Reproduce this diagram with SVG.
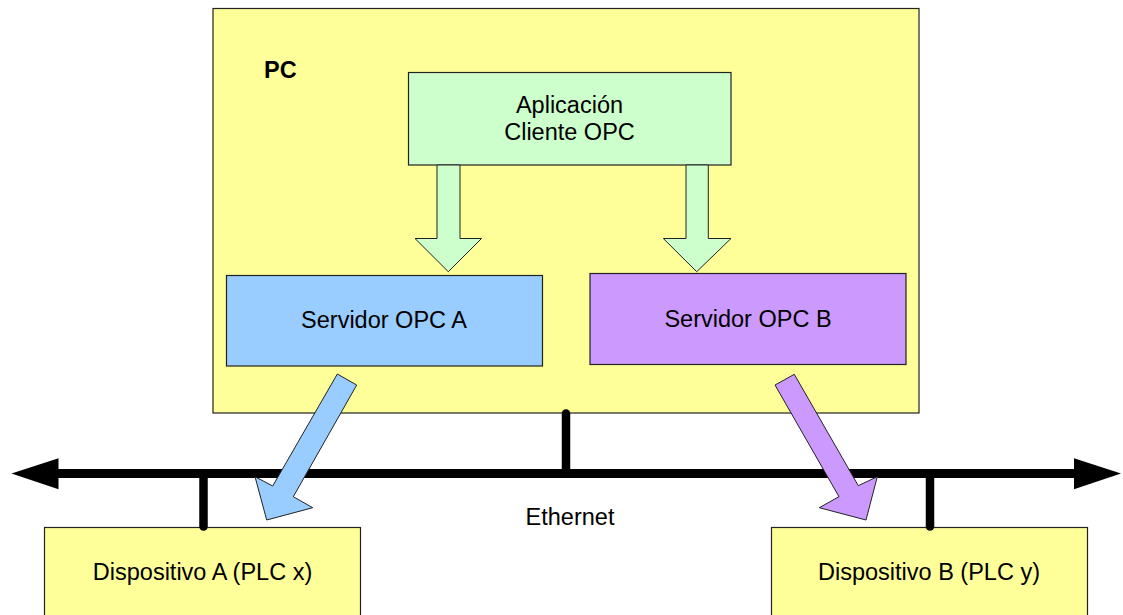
<svg xmlns="http://www.w3.org/2000/svg" width="1123" height="615" viewBox="0 0 1123 615">
  <style>
    .box { stroke: #222; stroke-width: 1.2; }
    .pc { fill: #ffff99; }
    .client { fill: #ccffcc; }
    .srvA { fill: #99ccff; }
    .srvB { fill: #cc99ff; }
    .dev { fill: #ffff99; }
    .lbl { font-family: "Liberation Sans", Arial, sans-serif; font-size: 23.5px; fill: #000; text-anchor: middle; }
    .bold { font-weight: bold; text-anchor: start; }
    .bus { stroke: #000; stroke-width: 9; fill: none; }
    .tap { stroke: #000; stroke-width: 8.5; stroke-linecap: round; fill: none; }
    .fat { stroke: #222; stroke-width: 1; stroke-linejoin: miter; }
  </style>
  <rect width="1123" height="615" fill="#ffffff"/>

  <g id="pc">
    <rect class="box pc" x="213" y="8.5" width="706" height="404.5"/>
    <text class="lbl bold" x="264" y="78">PC</text>
  </g>

  <g id="cliente">
    <rect class="box client" x="408.5" y="72.5" width="322.5" height="92.5"/>
    <text class="lbl" x="569.5" y="112.5">Aplicación</text>
    <text class="lbl" x="569.5" y="140">Cliente OPC</text>
  </g>

  <g id="servidor-a">
    <rect class="box srvA" x="226.5" y="275.5" width="316" height="90.5"/>
    <text class="lbl" x="384" y="327.5">Servidor OPC A</text>
  </g>

  <g id="servidor-b">
    <rect class="box srvB" x="590" y="273.5" width="316" height="91"/>
    <text class="lbl" x="748" y="326.5">Servidor OPC B</text>
  </g>

  <g id="dispositivo-a">
    <rect class="box dev" x="44.5" y="527.5" width="316" height="95"/>
    <text class="lbl" x="202.5" y="580">Dispositivo A (PLC x)</text>
  </g>

  <g id="dispositivo-b">
    <rect class="box dev" x="771.5" y="527.5" width="316" height="95"/>
    <text class="lbl" x="929" y="580">Dispositivo B (PLC y)</text>
  </g>

  <g id="connectors">
    <!-- client to servers -->
    <polygon class="fat client" points="437,165 460,165 460,238.5 481.5,238.5 448.3,271.7 415,238.5 437,238.5"/>
    <polygon class="fat client" points="686,165 708.3,165 708.3,238.5 731,238.5 696.7,271.7 663.3,238.5 686,238.5"/>

    <!-- Ethernet bus -->
    <line class="bus" x1="56" y1="473.5" x2="1076" y2="473.5"/>
    <polygon points="11.5,473.5 58.5,458.3 58.5,489.3" fill="#000"/>
    <polygon points="1121,473.5 1074,458.3 1074,489.3" fill="#000"/>
    <line class="tap" x1="566" y1="413.5" x2="566" y2="473"/>
    <line class="tap" x1="203.5" y1="474" x2="203.5" y2="526.5"/>
    <line class="tap" x1="930" y1="474" x2="930" y2="526.5"/>
    <text class="lbl" x="570" y="525">Ethernet</text>

    <!-- servers to devices -->
    <polygon class="fat srvA" points="337.3,374 356.7,385 293.3,496.7 312.7,507.7 266.7,520 255,476.7 272.7,486"/>
    <polygon class="fat srvB" points="794.3,374.3 775,385 839,496.7 819.3,507.7 866,520 877.3,476.7 858.3,485.7"/>
  </g>
</svg>
